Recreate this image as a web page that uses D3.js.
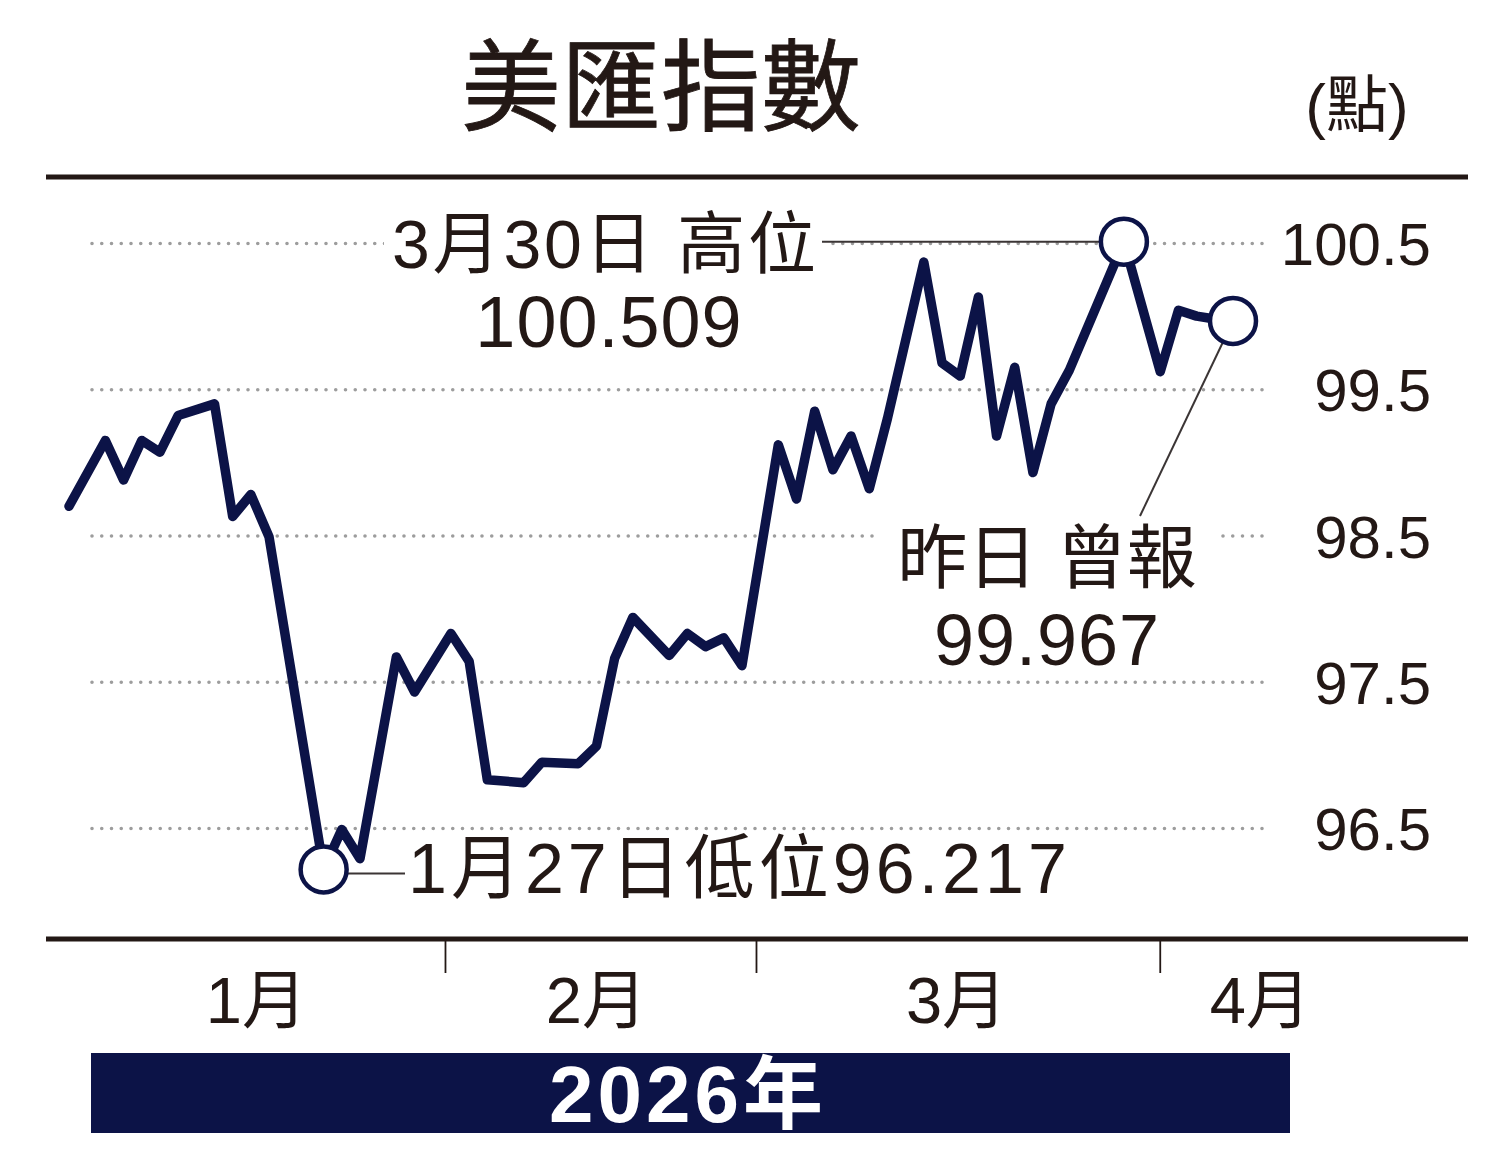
<!DOCTYPE html>
<html>
<head>
<meta charset="utf-8">
<script src="https://cdn.jsdelivr.net/npm/d3@7"></script>
<style>
  body { margin: 0; background: #fff; }
  text { font-family: 'Liberation Sans', Arial, 'Noto Sans CJK TC', sans-serif; fill: #231815; }
</style>
</head>
<body>
<div id="chart"></div>
<script>
// DXY daily closes (turning points), 2026
var dates = [
  '2026-01-07', '2026-01-09', '2026-01-12', '2026-01-13', '2026-01-14', '2026-01-15',
  '2026-01-19', '2026-01-20', '2026-01-21', '2026-01-22', '2026-01-27', '2026-01-28',
  '2026-01-29', '2026-02-02', '2026-02-03', '2026-02-05', '2026-02-06', '2026-02-09',
  '2026-02-11', '2026-02-12', '2026-02-16', '2026-02-17', '2026-02-18', '2026-02-19',
  '2026-02-23', '2026-02-24', '2026-02-25', '2026-02-26', '2026-02-27', '2026-03-03',
  '2026-03-04', '2026-03-05', '2026-03-06', '2026-03-09', '2026-03-10', '2026-03-11',
  '2026-03-13', '2026-03-16', '2026-03-17', '2026-03-18', '2026-03-19', '2026-03-20',
  '2026-03-23', '2026-03-24', '2026-03-25', '2026-03-30', '2026-04-01', '2026-04-02',
  '2026-04-03', '2026-04-06', '2026-04-07'
]
var values = [
  98.70, 99.15, 98.88, 99.15, 99.07, 99.32,
  99.40, 98.63, 98.78, 98.49, 96.217, 96.49,
  96.29, 97.67, 97.43, 97.83, 97.64, 96.83,
  96.81, 96.95, 96.94, 97.06, 97.66, 97.94,
  97.68, 97.83, 97.74, 97.80, 97.61, 99.12,
  98.75, 99.35, 98.95, 99.18, 98.82, 99.30,
  100.37, 99.68, 99.59, 100.13, 99.18, 99.65,
  98.93, 99.40, 99.63, 100.509, 99.62, 100.04,
  100.00, 99.98, 99.967
]

var yTicks = [96.5, 97.5, 98.5, 99.5, 100.5]
var monthLabels = ['1月', '2月', '3月', '4月']
var monthLabelAt = [10.3, 29.0, 48.8, 65.5]   // trading-session positions
var monthDividers = [20.7, 37.8, 60.0]

var lowDate = '2026-01-27', highDate = '2026-03-30', lastDate = '2026-04-07'

var width = 1500
var height = 1174
var navy = '#0c1347'
var ink = '#231815'

var svg = d3
  .select('#chart')
  .append('svg')
  .attr('width', width)
  .attr('height', height)

// count weekdays since the first date -> trading session index
var parse = d3.timeParse('%Y-%m-%d')
var start = parse(dates[0])
function session(str) {
  return d3.timeDay.range(start, parse(str)).filter(d => d.getDay() % 6 !== 0).length
}

var points = dates.map((d, i) => ({ s: session(d), v: values[i] }))

var x = d3.scaleLinear().domain([0, session(lastDate)]).range([69, 1233])
var y = d3.scaleLinear().domain([96.5, 100.5]).range([828, 243])

// title
svg.append('text')
  .attr('x', 661)
  .attr('y', 123)
  .attr('text-anchor', 'middle')
  .attr('font-size', 100)
  .attr('stroke', ink)
  .attr('stroke-width', 0.8)
  .style('font-family', "'Noto Sans CJK TC', sans-serif")
  .text('美匯指數')

svg.append('text')
  .attr('x', 1357)
  .attr('y', 127)
  .attr('text-anchor', 'middle')
  .attr('font-size', 62)
  .text('(點)')

// frame rules
svg.selectAll('.rule')
  .data([177, 939])
  .enter()
  .append('line')
  .attr('class', 'rule')
  .attr('x1', 46)
  .attr('x2', 1468)
  .attr('y1', d => d)
  .attr('y2', d => d)
  .attr('stroke', ink)
  .attr('stroke-width', 5)

// y axis with dotted grid
var yAxis = svg.append('g')
  .attr('transform', 'translate(1262,0)')
  .call(d3.axisRight(y).tickValues(yTicks).tickSize(-(1262 - 88)).tickFormat(d3.format('.1f')))

yAxis.select('.domain').remove()
yAxis.selectAll('.tick line')
  .attr('stroke', '#9d9d9d')
  .attr('stroke-width', 3.6)
  .attr('stroke-linecap', 'round')
  .attr('stroke-dasharray', '0 9.75')
yAxis.selectAll('.tick text')
  .attr('x', 169)
  .attr('dy', '0.36em')
  .attr('text-anchor', 'end')
  .attr('font-size', 60)
  .style('font-family', "'Liberation Sans', Arial, sans-serif")
  .attr('fill', ink)

// month dividers + labels
svg.selectAll('.divider')
  .data(monthDividers)
  .enter()
  .append('line')
  .attr('x1', d => x(d))
  .attr('x2', d => x(d))
  .attr('y1', 939)
  .attr('y2', 973)
  .attr('stroke', ink)
  .attr('stroke-width', 1.8)

svg.selectAll('.month')
  .data(monthLabels)
  .enter()
  .append('text')
  .attr('x', (d, i) => x(monthLabelAt[i]))
  .attr('y', 1023)
  .attr('text-anchor', 'middle')
  .attr('font-size', 65)
  .text(d => d)

// year band
svg.append('rect')
  .attr('x', 91)
  .attr('y', 1053)
  .attr('width', 1290 - 91)
  .attr('height', 80)
  .attr('fill', navy)

svg.append('text')
  .attr('x', 688)
  .attr('y', 1122)
  .attr('text-anchor', 'middle')
  .attr('font-size', 80)
  .attr('font-weight', 'bold')
  .attr('letter-spacing', 4)
  .style('fill', '#fff')
  .text('2026年')

// annotations (white knock-out behind the ones crossing the grid)
function note(txt, px, py, size, anchor, spacing, pad) {
  var g = svg.append('g')
  var t = g.append('text')
    .attr('x', px)
    .attr('y', py)
    .attr('text-anchor', anchor)
    .attr('font-size', size)
    .attr('letter-spacing', spacing)
    .text(txt)
  if (pad) {
    var b = t.node().getBBox()
    g.insert('rect', 'text')
      .attr('x', b.x - pad)
      .attr('y', b.y)
      .attr('width', b.width + pad * 2)
      .attr('height', b.height)
      .attr('fill', '#fff')
  }
  return g
}

var hi = points.find(p => p.s === session(highDate))
var lo = points.find(p => p.s === session(lowDate))
var last = points.find(p => p.s === session(lastDate))

note('3月30日 高位', 392, 268, 68, 'start', 2.8, 8)
note(d3.format('.3f')(hi.v), 609, 347, 72, 'middle', 1)
note('昨日 曾報', 1047, 583, 70, 'middle', 0, 20)
note(d3.format('.3f')(last.v), 1047, 665, 72, 'middle', 1)
note('1月27日低位' + d3.format('.3f')(lo.v), 408, 893, 70, 'start', 4)

// the index line
var line = d3.line()
  .x(d => x(d.s))
  .y(d => y(d.v))

svg.append('path')
  .datum(points)
  .attr('d', line)
  .attr('fill', 'none')
  .attr('stroke', navy)
  .attr('stroke-width', 9.5)
  .attr('stroke-linejoin', 'round')
  .attr('stroke-linecap', 'round')

// leader lines
var leaders = [
  [[822, y(hi.v)], [x(hi.s), y(hi.v)]],
  [[x(lo.s), y(lo.v) + 4], [405, y(lo.v) + 4]],
  [[x(last.s), y(last.v)], [1140, 516]]
]
svg.selectAll('.leader')
  .data(leaders)
  .enter()
  .append('path')
  .attr('d', d3.line())
  .attr('stroke', '#3b3535')
  .attr('stroke-width', 2)
  .attr('fill', 'none')

// marker circles
svg.selectAll('.marker')
  .data([hi, lo, last])
  .enter()
  .append('circle')
  .attr('cx', d => x(d.s))
  .attr('cy', d => y(d.v))
  .attr('r', 23)
  .attr('fill', '#fff')
  .attr('stroke', navy)
  .attr('stroke-width', 4.5)
</script>
</body>
</html>
